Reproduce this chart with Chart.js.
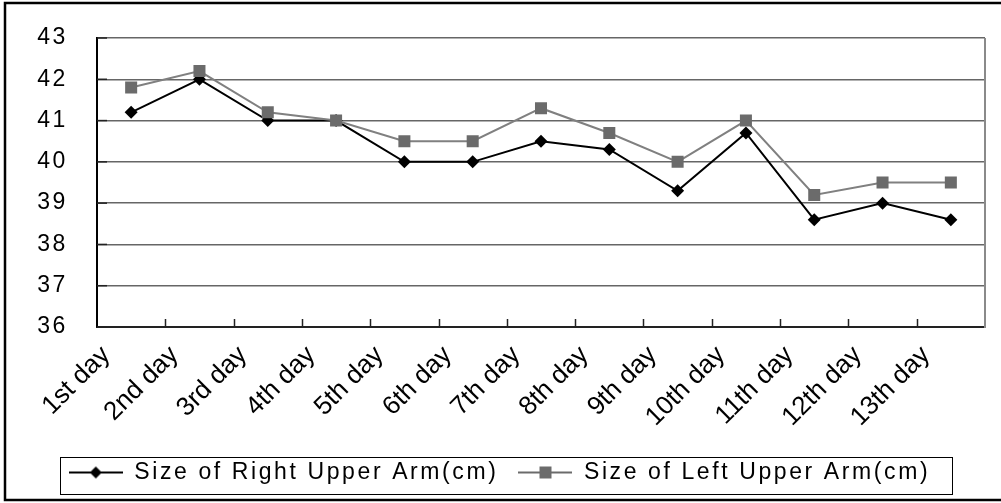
<!DOCTYPE html>
<html><head><meta charset="utf-8">
<script src="https://cdn.jsdelivr.net/npm/chart.js@4"></script>
<style>html,body{margin:0;padding:0;background:#fff;}#wrap{width:1001px;height:503px;}</style>
</head><body><div id="wrap"><canvas id="c" width="1001" height="503"></canvas></div>
<script>
const categories = ['1st day','2nd day','3rd day','4th day','5th day','6th day','7th day','8th day','9th day','10th day','11th day','12th day','13th day'];
const rightArm = [41.2,42.0,41.0,41.0,40.0,40.0,40.5,40.3,39.3,40.7,38.6,39.0,38.6];
const leftArm  = [41.8,42.2,41.2,41.0,40.5,40.5,41.3,40.7,40.0,41.0,39.2,39.5,39.5];
const seriesNames = ['Size of Right Upper Arm(cm)','Size of Left Upper Arm(cm)'];
const yMin = 36, yMax = 43, yStep = 1;

const FONT = {family:'"Liberation Sans", Arial, sans-serif', size:23};
const XFONT = {family:'"Liberation Sans", Arial, sans-serif', size:26};
const LS = '2.6px';

function makeIcon(kind, color){
  const cv = document.createElement('canvas');
  cv.width = 54; cv.height = 16;
  const g = cv.getContext('2d');
  g.strokeStyle = color; g.lineWidth = 2;
  g.beginPath(); g.moveTo(0,8); g.lineTo(54,8); g.stroke();
  g.fillStyle = color;
  if(kind==='diamond'){
    g.beginPath(); g.moveTo(27,2); g.lineTo(33,8); g.lineTo(27,14); g.lineTo(21,8); g.closePath(); g.fill();
  } else {
    g.fillRect(21,2,12,12);
  }
  return cv;
}
const icons = [makeIcon('diamond','#000'), makeIcon('square','#6b6b6b')];

const spacingPlugin = {
  id:'spacing',
  beforeUpdate(c){ c.ctx.letterSpacing = LS; },
  beforeLayout(c){ c.ctx.letterSpacing = LS; },
  beforeDraw(c){ c.ctx.letterSpacing = LS; },
  afterDatasetsDraw(c){ c.ctx.letterSpacing = '0px'; }
};

const decoPlugin = {
  id:'deco',
  afterDraw(c){
    const ctx = c.ctx, a = c.chartArea, xs = c.scales.x, ys = c.scales.y;
    ctx.save();
    ctx.strokeStyle = '#8a8a8a'; ctx.lineWidth = 2;
    ctx.beginPath(); ctx.moveTo(a.right, a.top); ctx.lineTo(a.right, a.bottom+1); ctx.stroke();
    ctx.strokeStyle = '#222'; ctx.lineWidth = 1.5;
    const half = (xs.getPixelForValue(1) - xs.getPixelForValue(0)) / 2;
    for(let i=1;i<categories.length;i++){
      const px = Math.round(xs.getPixelForValue(i) - half) + 0.5;
      ctx.beginPath(); ctx.moveTo(px, a.bottom); ctx.lineTo(px, a.bottom-8); ctx.stroke();
    }
    for(let v=yMin; v<=yMax; v+=yStep){
      const py = ys.getPixelForValue(v);
      ctx.beginPath(); ctx.moveTo(a.left, py); ctx.lineTo(a.left+10, py); ctx.stroke();
    }
    const lg = c.legend;
    if(lg && lg.legendHitBoxes && lg.legendHitBoxes.length){
      const hb = lg.legendHitBoxes;
      const l = Math.min(...hb.map(h=>h.left)) - 9;
      const r = Math.max(...hb.map(h=>h.left+h.width)) + 22;
      const cy = hb[0].top + hb[0].height/2;
      ctx.strokeStyle = '#000'; ctx.lineWidth = 1;
      ctx.strokeRect(Math.round(l)+0.5, Math.round(cy-15.5)+0.5, Math.round(r-l), 37);
    }
    ctx.strokeStyle = '#000'; ctx.lineWidth = 2.5;
    ctx.strokeRect(5, 3, 1010, 497);
    ctx.restore();
  }
};

new Chart(document.getElementById('c'), {
  type:'line',
  data:{
    labels: categories,
    datasets:[
      {label: seriesNames[0], data: rightArm, borderColor:'#000', backgroundColor:'#000', borderWidth:2,
       pointStyle:'rectRot', pointRadius:6.5, pointBackgroundColor:'#000', pointBorderColor:'#000', pointBorderWidth:0, order:2},
      {label: seriesNames[1], data: leftArm, borderColor:'#808080', backgroundColor:'#6b6b6b', borderWidth:2,
       pointStyle:'rect', pointRadius:8.5, pointBackgroundColor:'#6b6b6b', pointBorderColor:'#6b6b6b', pointBorderWidth:0, order:1}
    ]
  },
  options:{
    responsive:false, animation:false, devicePixelRatio:1,
    layout:{padding:{top:38, right:16, left:14, bottom:9}},
    plugins:{
      tooltip:{enabled:false},
      legend:{
        position:'bottom',
        labels:{
          usePointStyle:true, pointStyleWidth:54, boxHeight:16, padding:20,
          font:FONT, color:'#000',
          generateLabels(chart){
            return chart.data.datasets.map((ds,i)=>({text:ds.label, pointStyle:icons[i], fillStyle:'#000', strokeStyle:'#000', lineWidth:0, hidden:false, datasetIndex:i, fontColor:'#000'}));
          }
        }
      }
    },
    scales:{
      x:{
        type:'category', offset:true,
        grid:{display:true, drawOnChartArea:false, drawTicks:false, offset:true},
        border:{color:'#222', width:2},
        ticks:{maxRotation:45, minRotation:45, labelOffset:-25, padding:13, font:XFONT, color:'#000', autoSkip:false, z:1},
        afterFit(s){ s.height = 114; s.paddingLeft = 0; s.paddingRight = 0; }
      },
      y:{
        min:yMin, max:yMax,
        ticks:{stepSize:yStep, padding:29, font:FONT, color:'#000'},
        grid:{color:'#666', lineWidth:1.5, drawTicks:false},
        border:{color:'#000', width:2},
        afterFit(s){ s.width = 83; s.paddingTop = 0; s.paddingBottom = 0; }
      }
    }
  },
  plugins:[spacingPlugin, decoPlugin]
});
</script></body></html>
